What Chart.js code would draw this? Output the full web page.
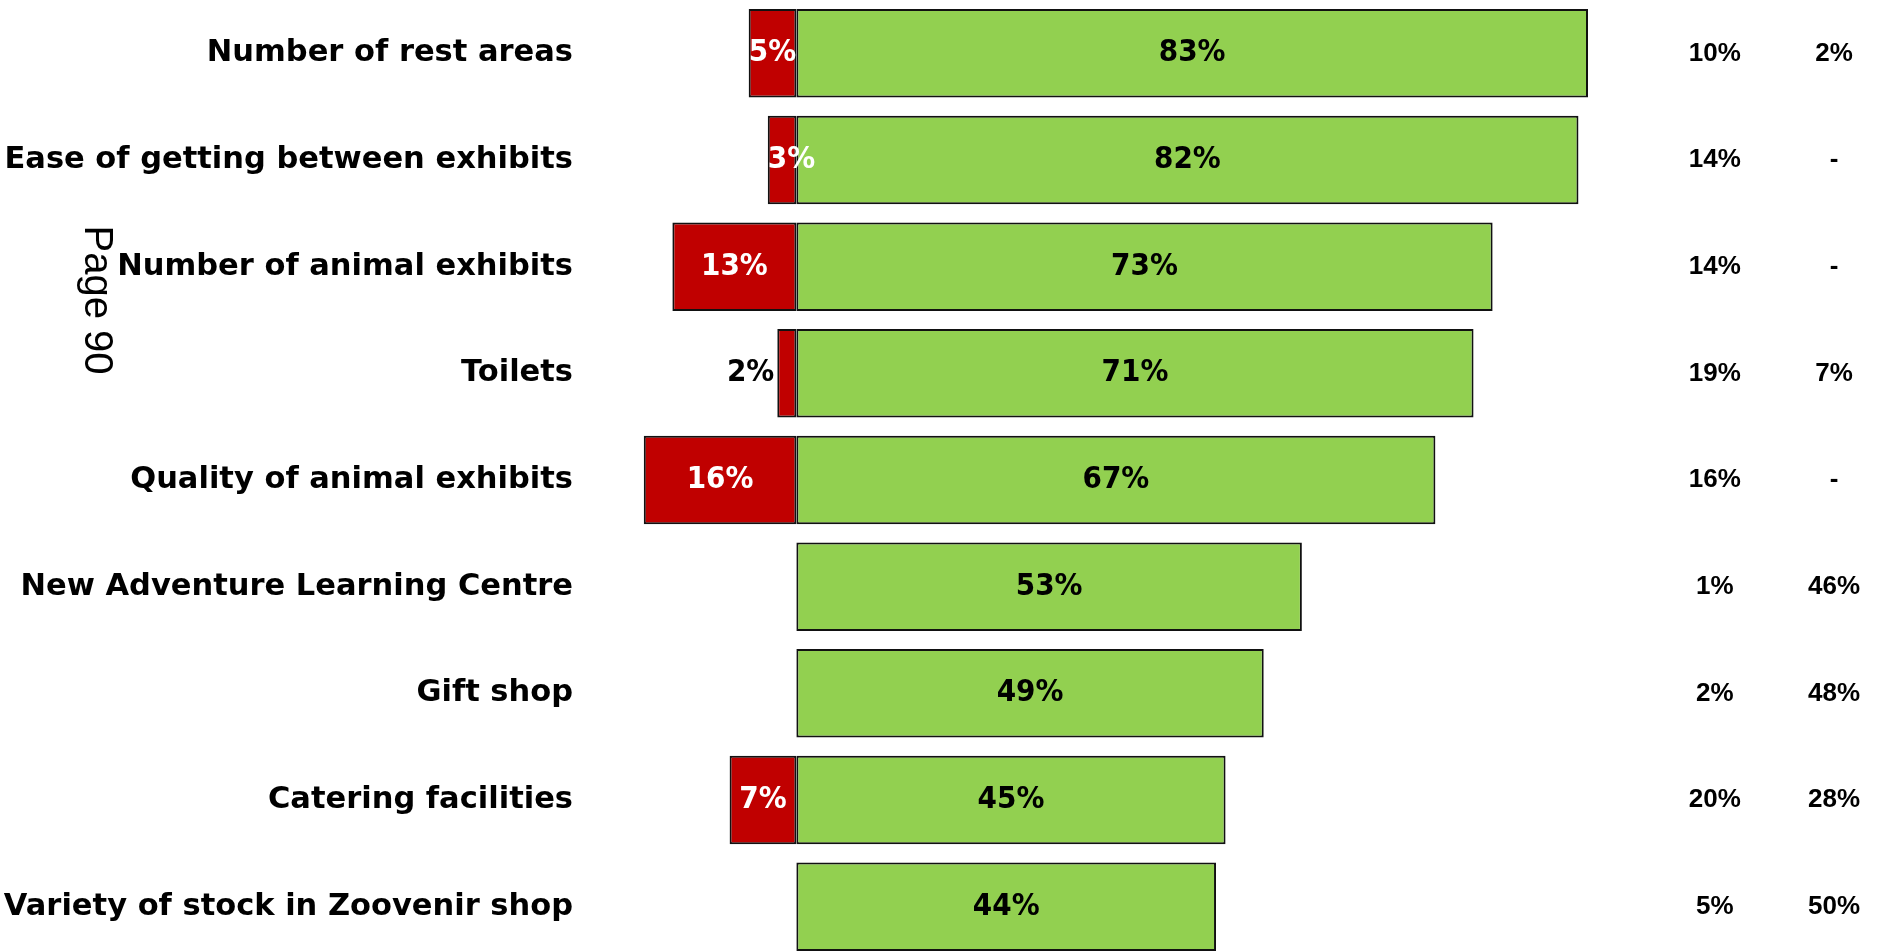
<!DOCTYPE html>
<html>
<head>
<meta charset="utf-8">
<script src="https://cdn.jsdelivr.net/npm/chart.js@4"></script>
<style>
  html, body { margin: 0; padding: 0; background: #fff; overflow: hidden; }
  #wrap { position: relative; width: 1877px; height: 960px; }
</style>
</head>
<body>
<div id="wrap"><canvas id="graph_zoo"></canvas></div>
<script>
/*------------------------------*/
/*     SATISFACTION FACILITIES  */
/*------------------------------*/
var categories = [
  'Number of rest areas',
  'Ease of getting between exhibits',
  'Number of animal exhibits',
  'Toilets',
  'Quality of animal exhibits',
  'New Adventure Learning Centre',
  'Gift shop',
  'Catering facilities',
  'Variety of stock in Zoovenir shop'
]
var poor = [5, 3, 13, 2, 16, 0, 0, 7, 0]
var good = [83, 82, 73, 71, 67, 53, 49, 45, 44]
var neutral = [10, 14, 14, 19, 16, 1, 2, 20, 5]
var noUse = [2, null, null, 7, null, 46, 48, 28, 50]

var RED = '#C00000'
var GREEN = '#92D050'
var LABEL_FONT = '"DejaVu Sans", sans-serif'
var VALUE_FONT = '"DejaVu Sans Condensed", "DejaVu Sans", sans-serif'

// side columns sit on the same x scale, right of the bars
var colNeutral = 96.3
var colNoUse = 108.8

var ctx_zoo = document.getElementById('graph_zoo').getContext('2d')

var data_zoo = {
  labels: categories,
  datasets: [{
    label: 'Poor',
    data: poor.map(function (v) { return v ? -v : null }),
    backgroundColor: RED,
    borderColor: '#111',
    borderWidth: 2,
    borderSkipped: false
  }, {
    label: 'Good',
    data: good,
    backgroundColor: GREEN,
    borderColor: '#111',
    borderWidth: 2,
    borderSkipped: false
  }]
}

// labels inside bars + the two text columns + side caption
var labelsPlugin = {
  id: 'zooLabels',
  afterDatasetsDraw: function (chart) {
    var c = chart.ctx
    var xs = chart.scales.x
    var ys = chart.scales.y
    c.save()
    c.textBaseline = 'middle'
    c.font = 'bold 31px ' + VALUE_FONT

    chart.getDatasetMeta(0).data.forEach(function (bar, i) {
      if (!poor[i]) return
      var txt = poor[i] + '%'
      if (poor[i] >= 3) {
        // centred, but never starting left of the bar
        var w = c.measureText(txt).width
        var cx = Math.max((bar.x + bar.base) / 2, bar.x + w / 2)
        c.fillStyle = '#fff'
        c.textAlign = 'center'
        c.fillText(txt, cx, bar.y)
      } else {
        c.fillStyle = '#000'
        c.textAlign = 'right'
        c.fillText(txt, bar.x - 3, bar.y)
      }
    })

    chart.getDatasetMeta(1).data.forEach(function (bar, i) {
      c.fillStyle = '#000'
      c.textAlign = 'center'
      c.fillText(good[i] + '%', (bar.x + bar.base) / 2, bar.y)
    })

    c.font = 'bold 26px "Liberation Sans", Arial, sans-serif'
    c.fillStyle = '#000'
    c.textAlign = 'center'
    categories.forEach(function (cat, i) {
      var y = ys.getPixelForValue(i)
      c.fillText(neutral[i] + '%', xs.getPixelForValue(colNeutral), y)
      c.fillText(noUse[i] == null ? '-' : noUse[i] + '%', xs.getPixelForValue(colNoUse), y)
    })

    // page caption, written top to bottom
    c.translate(96, 300)
    c.rotate(Math.PI / 2)
    c.font = '40px "Liberation Sans", Arial, sans-serif'
    c.textAlign = 'center'
    c.fillText('Page 90', 0, 0)
    c.restore()
  }
}

var config_zoo = {
  type: 'bar',
  data: data_zoo,
  options: {
    indexAxis: 'y',
    responsive: true,
    maintainAspectRatio: false,
    animation: false,
    layout: { padding: 0 },
    datasets: {
      bar: { categoryPercentage: 1, barPercentage: 0.83 }
    },
    scales: {
      x: {
        display: false,
        stacked: true,
        min: -23,
        max: 113.3
      },
      y: {
        stacked: true,
        grid: { display: false, drawTicks: false },
        border: { display: false },
        ticks: {
          color: '#000',
          padding: 4,
          font: { family: LABEL_FONT, size: 30.5, weight: 'bold' }
        },
        afterFit: function (scale) {
          scale.width = 577
          scale.paddingTop = 0
          scale.paddingBottom = 0
        }
      }
    },
    plugins: {
      legend: { display: false },
      tooltip: { enabled: false }
    }
  },
  plugins: [labelsPlugin]
}
var graph_zoo = new Chart(ctx_zoo, config_zoo)
/*------------------------------*/
/*------------------------------*/
</script>
</body>
</html>
